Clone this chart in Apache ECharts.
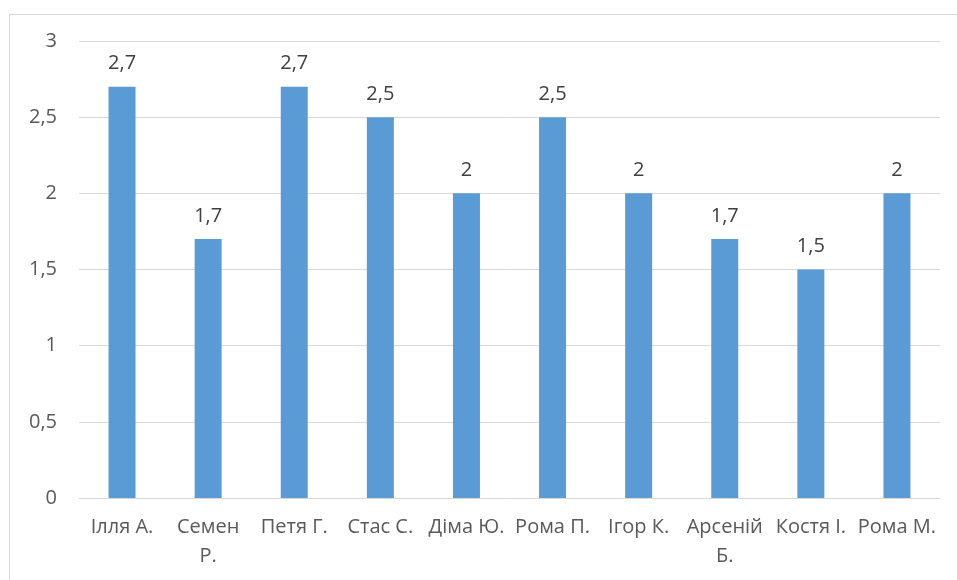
<!DOCTYPE html>
<html>
<head>
<meta charset="utf-8">
<script src="https://cdn.jsdelivr.net/npm/echarts@6/dist/echarts.min.js"></script>
<style>
  html, body { margin: 0; padding: 0; background: #fff; }
  #frame { position: absolute; left: 9px; top: 14px; width: 960px; height: 580px; border: 1px solid #d9d9d9; box-sizing: border-box; }
  #chart { position: absolute; left: 0; top: 0; width: 957px; height: 580px; }
</style>
</head>
<body>
<div id="frame"></div>
<div id="chart"></div>
<script>
// Students and their scores
const categories = ['Ілля А.', 'Семен\nР.', 'Петя Г.', 'Стас С.', 'Діма Ю.', 'Рома П.', 'Ігор К.', 'Арсеній\nБ.', 'Костя І.', 'Рома М.'];
const scores = [2.7, 1.7, 2.7, 2.5, 2, 2.5, 2, 1.7, 1.5, 2];
const yTicks = [0, 0.5, 1, 1.5, 2, 2.5, 3];

const comma = v => String(v).replace('.', ',');
const font = '"Open Sans", "Liberation Sans", sans-serif';

const chart = echarts.init(document.getElementById('chart'), null, { renderer: 'canvas' });
chart.setOption({
  animation: false,
  grid: { left: 79, right: 17, top: 41, bottom: 82, containLabel: false },
  xAxis: {
    type: 'category',
    data: categories,
    axisLine: { lineStyle: { color: '#d9d9d9', width: 1 } },
    axisTick: { show: false },
    axisLabel: { color: '#595959', fontFamily: font, fontSize: 20, lineHeight: 29, margin: 15, interval: 0 }
  },
  yAxis: {
    type: 'value',
    min: yTicks[0],
    max: yTicks[yTicks.length - 1],
    interval: yTicks[1] - yTicks[0],
    axisLine: { show: false },
    axisTick: { show: false },
    splitLine: { lineStyle: { color: '#d9d9d9', width: 1 } },
    axisLabel: { color: '#595959', fontFamily: font, fontSize: 20, margin: 22, formatter: v => comma(v) }
  },
  series: [{
    type: 'bar',
    data: scores,
    barWidth: 27,
    itemStyle: { color: '#5b9bd5' },
    label: {
      show: true,
      position: 'top',
      distance: 13,
      color: '#404040',
      fontFamily: font,
      fontSize: 20,
      formatter: p => comma(p.value)
    }
  }]
});
</script>
</body>
</html>
